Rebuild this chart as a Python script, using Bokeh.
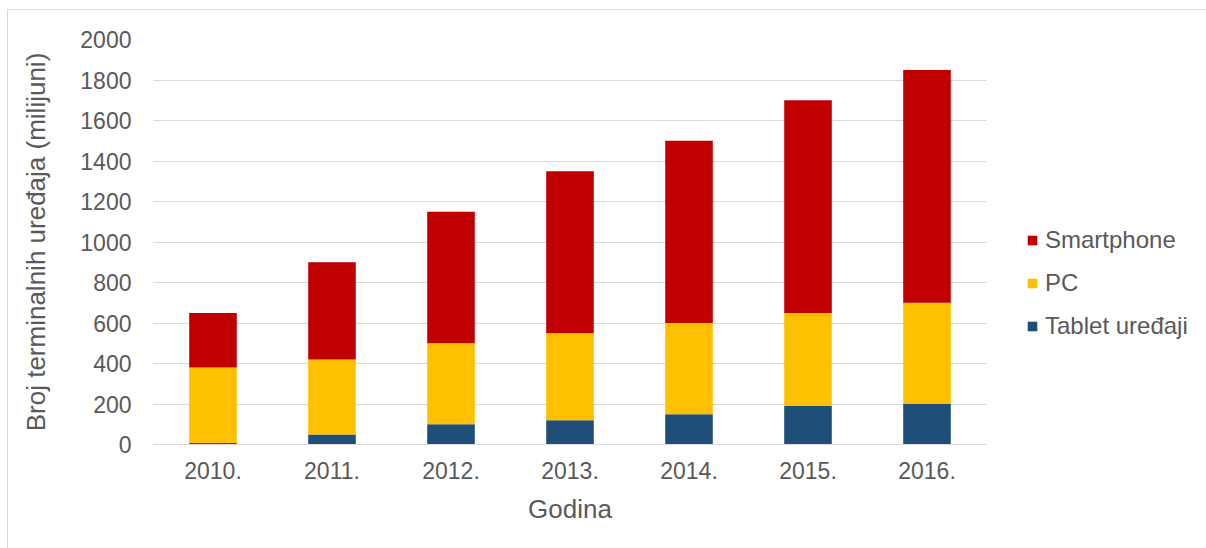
from bokeh.plotting import figure
from bokeh.models import ColumnDataSource, Legend, LegendItem, FactorRange
from bokeh.embed import file_html
from bokeh.resources import INLINE

years = ["2010.", "2011.", "2012.", "2013.", "2014.", "2015.", "2016."]
tablet = [8, 50, 100, 120, 150, 190, 200]
pc = [372, 370, 400, 430, 450, 460, 500]
smartphone = [270, 480, 650, 800, 900, 1050, 1150]

FONT = "Liberation Sans"
GREY = "#595959"

src = ColumnDataSource(dict(year=years, tablet=tablet, pc=pc, smartphone=smartphone))

p = figure(x_range=FactorRange(*years), y_range=(0, 2000), frame_width=833, frame_height=405,
           output_backend="svg", toolbar_location=None,
           min_border_left=145, min_border_right=0, min_border_top=29, min_border_bottom=104)
p.styles = {"margin-left": "7px", "margin-top": "9px",
            "border-left": "1px solid #d9d9d9", "border-top": "1px solid #d9d9d9"}
p.outline_line_color = None
p.x_range.range_padding = 0.0

rs = p.vbar_stack(["tablet", "pc", "smartphone"], x="year", width=0.4, source=src,
                  color=["#1f4e79", "#ffc000", "#c00000"], line_color=None)

p.yaxis.ticker = list(range(0, 2001, 200))
p.ygrid.grid_line_color = "#d9d9d9"
p.ygrid.grid_line_width = 1
p.xgrid.grid_line_color = None

for ax in (p.xaxis, p.yaxis):
    ax.major_tick_line_color = None
    ax.minor_tick_line_color = None
    ax.major_label_text_font = FONT
    ax.major_label_text_font_size = "23px"
    ax.major_label_text_color = GREY
    ax.axis_label_text_font = FONT
    ax.axis_label_text_font_size = "26px"
    ax.axis_label_text_color = GREY
    ax.axis_label_text_font_style = "normal"

p.yaxis.axis_line_color = None
p.xaxis.axis_line_color = "#d9d9d9"
p.yaxis.axis_label = "Broj terminalnih uređaja (milijuni)"
p.xaxis.axis_label = "Godina"
p.yaxis.major_label_standoff = 16
p.xaxis.major_label_standoff = 11
p.xaxis.axis_label_standoff = 12
p.yaxis.axis_label_standoff = 26

legend = Legend(items=[LegendItem(label="Smartphone", renderers=[rs[2]]),
                       LegendItem(label="PC", renderers=[rs[1]]),
                       LegendItem(label="Tablet uređaji", renderers=[rs[0]])],
                location=(40, 104), padding=0, margin=0, spacing=15,
                glyph_width=12, glyph_height=12, label_standoff=7, label_height=26,
                label_text_font=FONT, label_text_font_size="24px", label_text_color=GREY,
                border_line_color=None, background_fill_alpha=0)
p.add_layout(legend, "right")

open("out.html", "w").write(file_html(p, INLINE))
